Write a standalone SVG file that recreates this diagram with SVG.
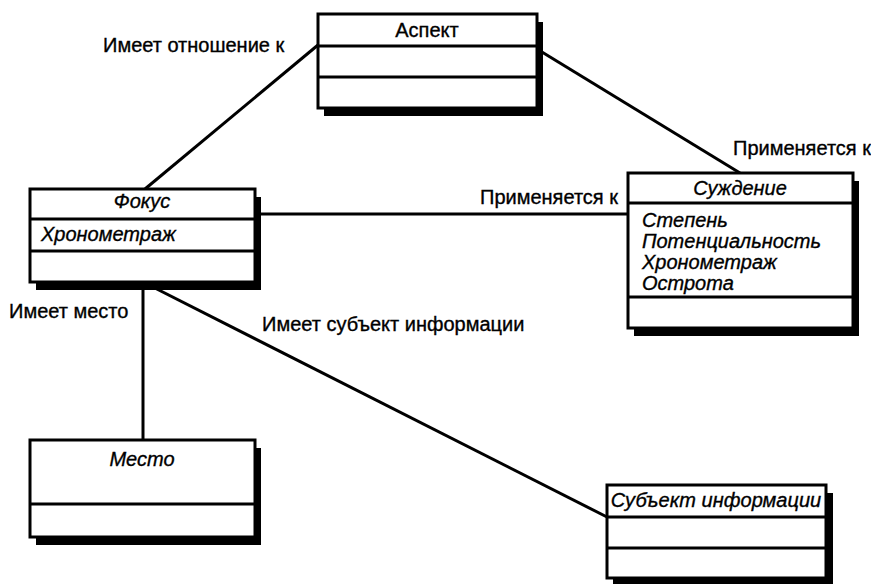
<svg xmlns="http://www.w3.org/2000/svg" width="871" height="584" viewBox="0 0 871 584">
<style>
  text { font-family: "Liberation Sans", Arial, sans-serif; font-size: 20px; fill: #000; stroke: #000; stroke-width: 0.35; }
  .it { font-style: italic; }
  .c { text-anchor: middle; }
  .box { fill: #fff; stroke: #000; stroke-width: 3; }
  .sh { fill: #000; }
  .div { stroke: #000; stroke-width: 3; }
  .conn { stroke: #000; stroke-width: 3; fill: none; }
</style>
<rect width="871" height="584" fill="#fff"/>
<g id="connectors">
  <line class="conn" x1="145" y1="189" x2="318" y2="45"/>
  <line class="conn" x1="537" y1="49" x2="740" y2="173"/>
  <line class="conn" x1="255" y1="214" x2="628" y2="214"/>
  <line class="conn" x1="143" y1="282" x2="143" y2="440"/>
  <line class="conn" x1="143" y1="282" x2="607" y2="517"/>
  <text x="103" y="52">Имеет отношение к</text>
  <text x="733" y="155">Применяется к</text>
  <text x="480" y="204">Применяется к</text>
  <text x="9" y="318">Имеет место</text>
  <text x="262" y="331">Имеет субъект информации</text>
</g>
<g id="aspect">
  <rect class="sh" x="324" y="22" width="219" height="94"/>
  <rect class="box" x="318" y="14" width="219" height="94"/>
  <line class="div" x1="318" y1="46" x2="537" y2="46"/>
  <line class="div" x1="318" y1="77" x2="537" y2="77"/>
  <text class="c" x="427" y="37">Аспект</text>
</g>
<g id="focus">
  <rect class="sh" x="36" y="197" width="225" height="93"/>
  <rect class="box" x="30" y="189" width="225" height="93"/>
  <line class="div" x1="30" y1="219" x2="255" y2="219"/>
  <line class="div" x1="30" y1="251" x2="255" y2="251"/>
  <text class="c it" x="142" y="208">Фокус</text>
  <text class="it" x="41" y="241">Хронометраж</text>
</g>
<g id="judgement">
  <rect class="sh" x="634" y="181" width="225" height="155"/>
  <rect class="box" x="628" y="173" width="225" height="155"/>
  <line class="div" x1="628" y1="203" x2="853" y2="203"/>
  <line class="div" x1="628" y1="297" x2="853" y2="297"/>
  <text class="c it" x="740" y="195">Суждение</text>
  <text class="it" x="642" y="227">Степень</text>
  <text class="it" x="642" y="248">Потенциальность</text>
  <text class="it" x="642" y="269">Хронометраж</text>
  <text class="it" x="642" y="290">Острота</text>
</g>
<g id="place">
  <rect class="sh" x="36" y="448" width="225" height="97"/>
  <rect class="box" x="30" y="440" width="225" height="97"/>
  <line class="div" x1="30" y1="504" x2="255" y2="504"/>
  <text class="c it" x="142" y="466">Место</text>
</g>
<g id="subject">
  <rect class="sh" x="613" y="493" width="220" height="93"/>
  <rect class="box" x="607" y="485" width="219" height="93"/>
  <line class="div" x1="607" y1="517" x2="826" y2="517"/>
  <line class="div" x1="607" y1="548" x2="826" y2="548"/>
  <text class="c it" x="716" y="507">Субъект информации</text>
</g>
</svg>
